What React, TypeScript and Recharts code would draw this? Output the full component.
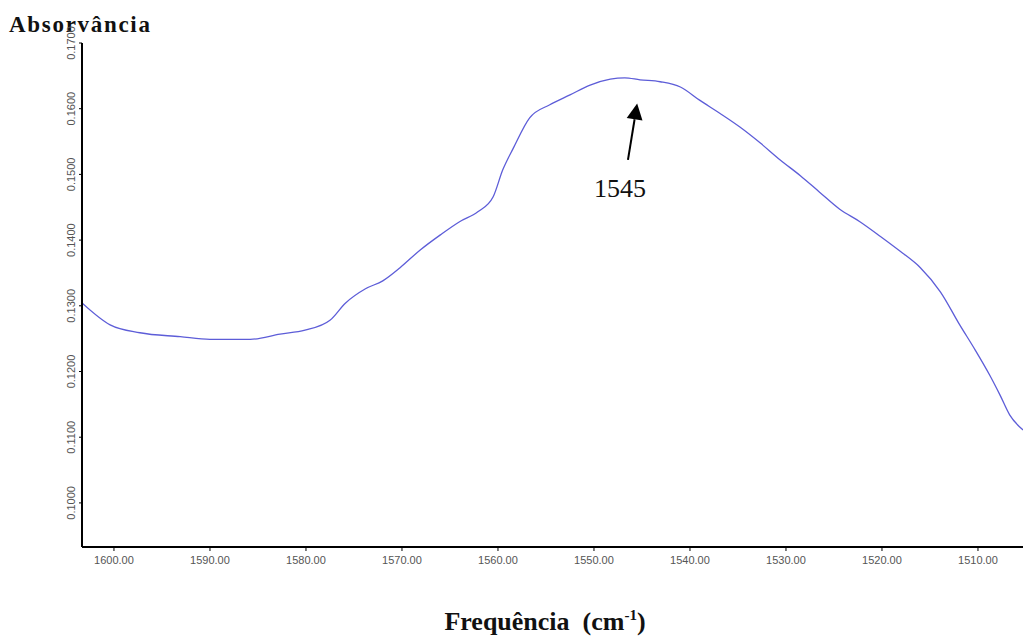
import React from 'react';
import { LineChart, Line, XAxis, YAxis, ReferenceLine, ReferenceDot } from 'recharts';

// FTIR spectrum, amide II region
const wavenumbers = [
  1603.3, 1600.4, 1597.3, 1593.1, 1590.0, 1585.8, 1582.7, 1580.1, 1577.5, 1575.9,
  1573.8, 1572.0, 1570.2, 1568.1, 1566.0, 1564.0, 1562.1, 1560.5, 1559.5, 1558.4,
  1556.7, 1554.6, 1552.5, 1550.4, 1548.3, 1546.8, 1545.2, 1543.1, 1541.0, 1539.0,
  1536.9, 1534.8, 1532.7, 1530.6, 1528.5, 1526.5, 1524.4, 1522.3, 1520.2, 1518.1,
  1516.0, 1513.9, 1511.9, 1510.3, 1508.8, 1507.7, 1506.7, 1505.3,
];

const absorbance = [
  0.1304, 0.1271, 0.1259, 0.1253, 0.1249, 0.1249, 0.1257, 0.1263, 0.1278, 0.1304,
  0.1326, 0.1338, 0.1358, 0.1385, 0.1408, 0.1428, 0.1443, 0.1466, 0.1507, 0.1540,
  0.1586, 0.1606, 0.1621, 0.1636, 0.1645, 0.1647, 0.1644, 0.1641, 0.1633, 0.1613,
  0.1593, 0.1572, 0.1548, 0.1522, 0.1498, 0.1473, 0.1447, 0.1428, 0.1406, 0.1383,
  0.1358, 0.1321, 0.1271, 0.1233, 0.1195, 0.1164, 0.1134, 0.1111,
];

const xTicks = [1600, 1590, 1580, 1570, 1560, 1550, 1540, 1530, 1520, 1510];
const yTicks = [0.1, 0.11, 0.12, 0.13, 0.14, 0.15, 0.16, 0.17];

// peak annotation: arrow tail/tip and label anchor
const peakLabel = '1545';
const arrowTail = { x: 1546.46, y: 0.1522 };
const arrowTip = { x: 1545.5, y: 0.1608 };
const labelAt = { x: 1547.3, y: 0.1479 };

const data = wavenumbers.map((w, i) => ({ w, a: absorbance[i] }));

const tickFont = 'Arial, "Liberation Sans", sans-serif';
const serif = '"Times New Roman", "Liberation Serif", serif';

const YTick = (props: any) => {
  const { x, y, payload } = props;
  return (
    <text
      x={x - 2}
      y={y}
      transform={`rotate(-90, ${x - 2}, ${y})`}
      textAnchor="middle"
      fontSize={11}
      fontFamily={tickFont}
      fill="#555"
    >
      {Number(payload.value).toFixed(4)}
    </text>
  );
};

const XTick = (props: any) => {
  const { x, y, payload } = props;
  return (
    <text x={x} y={y + 11} textAnchor="middle" fontSize={11} fontFamily={tickFont} fill="#555">
      {Number(payload.value).toFixed(2)}
    </text>
  );
};

const Arrow = (props: any) => {
  const { x1, y1, x2, y2 } = props;
  const ang = Math.atan2(y2 - y1, x2 - x1);
  const len = 16;
  const half = 8;
  const bx = x2 - len * Math.cos(ang);
  const by = y2 - len * Math.sin(ang);
  const px = -Math.sin(ang) * half;
  const py = Math.cos(ang) * half;
  return (
    <g>
      <line x1={x1} y1={y1} x2={bx} y2={by} stroke="#000" strokeWidth={2} />
      <polygon
        points={`${x2},${y2} ${bx + px},${by + py} ${bx - px},${by - py}`}
        fill="#000"
      />
    </g>
  );
};

export default function App() {
  return (
    <div style={{ position: 'absolute', left: 0, top: 0, width: 1023, height: 637, background: '#fff' }}>
      <div
        style={{
          position: 'absolute',
          left: 9,
          top: 12,
          fontFamily: serif,
          fontWeight: 'bold',
          fontSize: 23,
          letterSpacing: 1.7,
          color: '#111',
        }}
      >
        Absorvância
      </div>
      <LineChart
        width={1023}
        height={637}
        data={data}
        margin={{ top: 43, right: 0, bottom: 60, left: 0 }}
      >
        <XAxis
          dataKey="w"
          type="number"
          domain={[1505.31, 1603.33]}
          reversed
          ticks={xTicks}
          tick={<XTick />}
          tickSize={4}
          height={30}
          axisLine={{ stroke: '#000', strokeWidth: 2 }}
          tickLine={{ stroke: '#000' }}
          allowDataOverflow
        />
        <YAxis
          dataKey="a"
          type="number"
          domain={[0.09329, 0.17]}
          ticks={yTicks}
          tick={<YTick />}
          tickSize={3}
          width={82}
          axisLine={{ stroke: '#000', strokeWidth: 2 }}
          tickLine={{ stroke: '#000' }}
          allowDataOverflow
        />
        <Line
          type="monotone"
          dataKey="a"
          stroke="#5d5dd8"
          strokeWidth={1.3}
          dot={false}
          isAnimationActive={false}
        />
        <ReferenceLine
          segment={[arrowTail, arrowTip]}
          shape={(p: any) => <Arrow {...p} />}
          ifOverflow="visible"
        />
        <ReferenceDot
          x={labelAt.x}
          y={labelAt.y}
          r={0}
          fill="none"
          stroke="none"
          label={{ value: peakLabel, position: 'center', fontSize: 26, fontFamily: serif, fill: '#111' }}
        />
      </LineChart>
      <div
        style={{
          position: 'absolute',
          left: 0,
          width: 1090,
          top: 607,
          textAlign: 'center',
          fontFamily: serif,
          fontWeight: 'bold',
          fontSize: 26,
          color: '#111',
        }}
      >
        Frequência&nbsp;&nbsp;(cm<sup style={{ fontSize: 15 }}>-1</sup>)
      </div>
    </div>
  );
}
